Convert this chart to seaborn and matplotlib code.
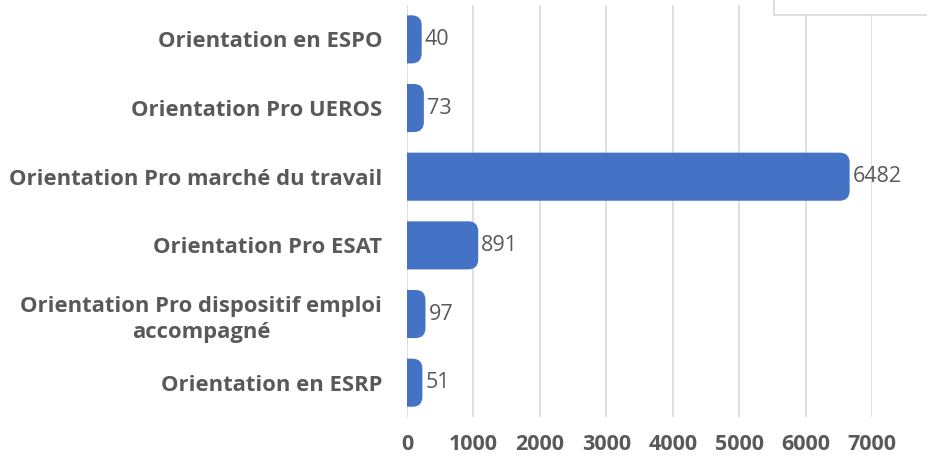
import matplotlib
matplotlib.use("Agg")
import matplotlib.pyplot as plt
from matplotlib.patches import FancyBboxPatch, Rectangle
import seaborn as sns
import pandas as pd

# ------------------------------ data ------------------------------
categories = [
    "Orientation en ESPO",
    "Orientation Pro UEROS",
    "Orientation Pro marché du travail",
    "Orientation Pro ESAT",
    "Orientation Pro dispositif emploi\naccompagné",
    "Orientation en ESRP",
]
values = [40, 73, 6482, 891, 97, 51]
x_ticks = [0, 1000, 2000, 3000, 4000, 5000, 6000, 7000]

df = pd.DataFrame({"categorie": categories, "nombre": values})

bar_color = "#4472C4"
text_color = "#595959"
grid_color = "#D9D9D9"

sns.set_theme(style="white")
plt.rcParams["font.family"] = ["Open Sans", "DejaVu Sans"]

fig = plt.figure(figsize=(9.28, 4.61), dpi=100)
ax = fig.add_axes([0.4386, 0.0954, 0.5011, 0.8937])

sns.barplot(data=df, y="categorie", x="nombre", orient="h", color=bar_color,
            width=0.7, ax=ax, saturation=1)

ax.set_xlim(0, 7000)
ax.set_ylim(len(categories) - 0.5, -0.5)

# rounded ends on the bars (Excel style)
fig.canvas.draw()
bb = ax.get_window_extent()
x_per_px = 7000 / bb.width
y_per_px = len(categories) / bb.height
r = 10 * x_per_px
ext = 12 * x_per_px
for p in list(ax.patches):
    x0, y0 = p.get_x(), p.get_y()
    w, h = p.get_width(), p.get_height()
    p.set_visible(False)
    fb = FancyBboxPatch((x0 - 2 * r, y0), w + 2 * r + ext, h,
                        boxstyle=f"round,pad=0,rounding_size={r}",
                        mutation_aspect=y_per_px / x_per_px,
                        facecolor=bar_color, edgecolor="none", zorder=3)
    ax.add_patch(fb)
    ax.text(w + ext + 3 * x_per_px, y0 + h / 2, str(int(w)),
            va="center", ha="left", color=text_color, fontsize=15.5, zorder=4)

ax.set_xticks(x_ticks)
ax.set_xticklabels([str(t) for t in x_ticks], fontweight="bold", color=text_color, fontsize=15.5)
ax.tick_params(axis="x", length=0, pad=12)
ax.tick_params(axis="y", length=0, pad=18)
for lab in ax.get_yticklabels():
    lab.set_fontweight("bold")
    lab.set_color(text_color)
    lab.set_fontsize(15.8)
    lab.set_multialignment("center")
    lab.set_linespacing(1.35)

ax.grid(axis="x", color=grid_color, linewidth=1.2, zorder=0)
ax.set_axisbelow(True)
for s in ax.spines.values():
    s.set_visible(False)
ax.set_xlabel("")
ax.set_ylabel("")

# partial legend box in the top right corner
fig.patches.append(Rectangle((774 / 928, 1 - 15 / 461), 0.2, 0.1, transform=fig.transFigure,
                             facecolor="white", edgecolor=grid_color, linewidth=1.2, zorder=5))

fig.savefig("out.png", dpi=100)
